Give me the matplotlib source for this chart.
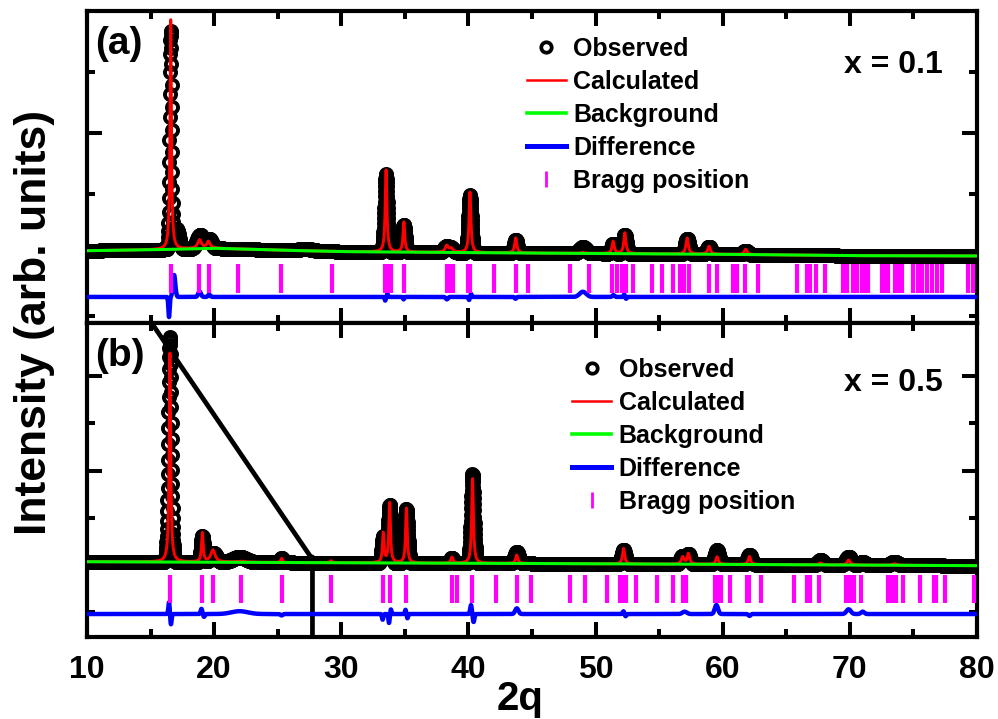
import numpy as np
import matplotlib
matplotlib.use("Agg")
import matplotlib.pyplot as plt
from matplotlib.lines import Line2D

plt.rcParams['font.family'] = ['Liberation Sans', 'DejaVu Sans']
plt.rcParams['font.weight'] = 'bold'
plt.rcParams['axes.labelweight'] = 'bold'

STEP = 0.015
two_theta = np.arange(10, 80 + STEP / 2, STEP)

# ---- panel (a), x = 0.1 ----
bkg_x_a = [10, 15, 20, 25, 30, 40, 50, 60, 70, 80]
bkg_y_a = [70, 85, 110, 80, 55, 38, 25, 11, -11, -16]

calc_pos_a = [16.58, 18.85, 19.55, 33.52, 34.92, 38.3, 38.65, 40.12, 43.72, 49.0, 51.38, 52.3, 57.2, 58.92, 61.8]
calc_h_a = [3786, 140, 110, 1344, 492, 110, 60, 992, 246, 16, 200, 340, 265, 128, 87]
calc_w_a = [0.13, 0.35, 0.3, 0.16, 0.16, 0.3, 0.3, 0.17, 0.2, 0.3, 0.2, 0.2, 0.22, 0.25, 0.25]

obs_pos_a = [16.58, 17.05, 18.9, 19.6, 27.2, 33.52, 34.92, 38.25, 38.65, 40.12, 43.72, 49.0, 51.38, 52.3, 57.2, 58.92, 61.8]
obs_h_a = [3573, 330, 220, 150, 30, 1278, 443, 90, 70, 942, 213, 100, 164, 311, 254, 123, 60]
obs_w_a = [0.2, 0.45, 0.6, 0.5, 1.2, 0.3, 0.28, 0.45, 0.45, 0.3, 0.32, 0.6, 0.3, 0.32, 0.36, 0.38, 0.4]

diff_pos_a = [16.45, 16.85, 18.85, 19.6, 33.45, 33.62, 34.9, 38.3, 40.05, 40.2, 43.7, 49.0, 51.4, 52.25, 52.4]
diff_amp_a = [-330, 360, 90, 40, -60, 50, -40, -40, -50, 50, -30, 85, 30, 40, -30]
diff_w_a = [0.12, 0.22, 0.25, 0.2, 0.1, 0.1, 0.1, 0.2, 0.1, 0.1, 0.15, 0.6, 0.2, 0.1, 0.1]

bragg_a = [16.58, 18.83, 19.62, 21.85, 25.23, 29.24, 33.45, 33.6, 33.9, 34.9, 38.3, 38.45, 38.8,
           39.95, 40.15, 42.0, 43.7, 44.71, 47.99, 49.51, 51.27, 51.66, 52.05, 52.39, 52.92, 54.41,
           55.2, 56.11, 56.64, 56.96, 57.33, 58.95, 59.53, 60.84, 61.15, 61.76, 62.8, 65.82, 66.6,
           66.87, 67.34, 68.05, 69.44, 69.75, 70.27, 70.59, 70.93, 71.19, 71.45, 72.5, 72.77, 73.03,
           73.55, 73.81, 74.08, 75.0, 75.39, 75.65, 76.04, 76.44, 76.83, 77.22, 79.32, 79.71]

# ---- panel (b), x = 0.5 ----
bkg_x_b = [10, 20, 30, 40, 43, 50, 60, 70, 80]
bkg_y_b = [70, 60, 49, 35, 35, 25, 14, 0, -14]

calc_pos_b = [16.52, 19.07, 19.9, 22.1, 25.3, 29.2, 33.3, 33.8, 35.12, 38.7, 40.32, 43.8, 52.2,
              56.85, 57.3, 59.55, 62.1, 67.7, 69.9, 73.5]
calc_h_b = [4444, 614, 254, 20, 85, 40, 624, 1270, 1164, 127, 1799, 176, 328, 150, 222, 161, 169, 40, 105, 30]
calc_w_b = [0.14, 0.15, 0.4, 0.8, 0.15, 0.2, 0.15, 0.15, 0.15, 0.2, 0.16, 0.2, 0.2, 0.25, 0.22,
            0.22, 0.22, 0.3, 0.3, 0.4]

obs_pos_b = [16.52, 19.07, 19.95, 22.0, 25.3, 33.3, 33.8, 35.12, 38.7, 40.32, 43.8, 52.2, 56.85,
             57.3, 59.55, 62.1, 67.7, 69.9, 71.0, 73.5]
obs_h_b = [4761, 550, 190, 110, 85, 560, 1227, 1143, 110, 1883, 239, 296, 180, 212, 296, 200, 100, 170, 60, 70]
obs_w_b = [0.3, 0.28, 0.55, 1.2, 0.25, 0.28, 0.3, 0.3, 0.3, 0.3, 0.4, 0.35, 0.4, 0.35, 0.4,
           0.38, 0.45, 0.5, 0.5, 0.6]

diff_pos_b = [16.45, 16.6, 19.0, 19.2, 22.0, 25.3, 33.25, 33.75, 33.9, 35.05, 35.2, 40.2, 40.4,
              43.8, 52.2, 52.35, 57.0, 59.5, 62.1, 69.9, 71.0]
diff_amp_b = [250, -220, 110, -60, 60, -30, -120, -190, 100, 90, -90, 190, -170, 120, 60, -50, 50,
              190, -40, 100, 50]
diff_w_b = [0.12, 0.12, 0.15, 0.15, 1.5, 0.2, 0.12, 0.12, 0.1, 0.1, 0.1, 0.15, 0.15, 0.3, 0.15,
            0.15, 0.4, 0.3, 0.2, 0.4, 0.3]

bragg_b = [16.5, 19.07, 19.9, 22.1, 25.3, 29.2, 33.3, 33.8, 35.1, 38.7, 39.1, 40.3, 42.2, 43.8,
           44.9, 48.0, 49.2, 50.9, 51.9, 52.1, 52.4, 53.2, 54.8, 56.1, 56.9, 57.1, 59.4, 59.7, 59.9,
           60.6, 61.9, 62.1, 63.0, 65.6, 66.6, 66.9, 67.6, 69.7, 70.0, 70.3, 70.9, 73.0, 73.3, 73.6,
           74.2, 75.5, 76.6, 76.8, 77.5, 79.8]

# stray black trace in panel (b)
glitch_x = [15.08, 27.6, 27.73, 27.73]
glitch_y = [5122, 170, 170, -1800]

diff_offset = {'a': -688, 'b': -1037}
bragg_span = {'a': (-140, -620), 'b': (-212, -804)}
ylims = {'a': (-1115, 4000), 'b': (-1524, 5122)}
major_y = {'a': [0, 2000], 'b': [0, 2000, 4000]}
minor_y = {'a': [-1000, 1000, 3000], 'b': [-1000, 1000, 3000]}


def peak_sum(x, positions, heights, widths, eta):
    # eta = 1 -> Lorentzian, eta = 0 -> Gaussian (widths are FWHM)
    y = np.zeros_like(x)
    for p, h, w in zip(positions, heights, widths):
        lor = 1 / (1 + ((x - p) / (w / 2)) ** 2)
        gau = np.exp(-4 * np.log(2) * ((x - p) / w) ** 2)
        y += h * (eta * lor + (1 - eta) * gau)
    return y


def draw_panel(ax, key, bkg_x, bkg_y, calc_peaks, obs_peaks, diff_peaks, bragg, label, comp, leg_anchor):
    bkg = np.interp(two_theta, bkg_x, bkg_y)
    calc = bkg + peak_sum(two_theta, *calc_peaks, eta=1.0)
    obs = bkg + peak_sum(two_theta, *obs_peaks, eta=0.0)
    diff = diff_offset[key] + peak_sum(two_theta, *diff_peaks, eta=0.0)

    ax.plot(two_theta, obs, ls='none', marker='o', ms=8, mfc='none', mec='k', mew=2.8, zorder=2)
    ax.plot(two_theta, calc, color='#ff0000', lw=2.1, zorder=3)
    ax.plot(two_theta, bkg, color='#00ff00', lw=2.2, zorder=4)
    ax.plot(two_theta, diff, color='#0000ff', lw=3.2, zorder=4)
    ax.vlines(bragg, *bragg_span[key], color='#ff00ff', lw=3, zorder=4)

    ax.set_xlim(10, 80)
    ax.set_ylim(*ylims[key])
    ax.set_xticks(np.arange(10, 81, 10))
    ax.set_xticks(np.arange(15, 80, 10), minor=True)
    ax.set_yticks(major_y[key])
    ax.set_yticks(minor_y[key], minor=True)
    ax.tick_params(which='both', direction='in', top=True, right=True, width=2.9,
                   labelleft=False, labelsize=23, pad=13)
    ax.tick_params(which='major', length=10.8)
    ax.tick_params(which='minor', length=5.8)
    for s in ax.spines.values():
        s.set_linewidth(3)

    ax.text(0.009, 0.895, label, transform=ax.transAxes, fontsize=28, ha='left', va='center')
    ax.text(0.962, comp[1], comp[0], transform=ax.transAxes, fontsize=23, ha='right', va='center')

    handles = [
        Line2D([], [], ls='none', marker='o', ms=7.5, mfc='none', mec='k', mew=2.7),
        Line2D([], [], color='#ff0000', lw=1.8),
        Line2D([], [], color='#00ff00', lw=2.6),
        Line2D([], [], color='#0000ff', lw=3.6),
        Line2D([], [], ls='none', marker='|', ms=11, mew=2, color='#ff00ff'),
    ]
    labels = ['Observed', 'Calculated', 'Background', 'Difference', 'Bragg position']
    ax.legend(handles, labels, loc='upper left', bbox_to_anchor=leg_anchor, frameon=False,
              borderpad=0, borderaxespad=0, handlelength=1.56, handletextpad=0.3,
              labelspacing=0.36, prop={'weight': 'bold', 'size': 18})


fig = plt.figure(figsize=(9.98, 7.19), dpi=100)
ax_a = fig.add_axes([0.0872, 0.5508, 0.8918, 0.4339])
ax_b = fig.add_axes([0.0872, 0.1140, 0.8918, 0.4368])

draw_panel(ax_a, 'a', bkg_x_a, bkg_y_a, (calc_pos_a, calc_h_a, calc_w_a),
           (obs_pos_a, obs_h_a, obs_w_a), (diff_pos_a, diff_amp_a, diff_w_a),
           bragg_a, '(a)', ('x = 0.1', 0.827), (0.494, 0.916))
draw_panel(ax_b, 'b', bkg_x_b, bkg_y_b, (calc_pos_b, calc_h_b, calc_w_b),
           (obs_pos_b, obs_h_b, obs_w_b), (diff_pos_b, diff_amp_b, diff_w_b),
           bragg_b, '(b)', ('x = 0.5', 0.809), (0.545, 0.888))
ax_b.plot(glitch_x, glitch_y, color='k', lw=3.4, zorder=2)

ax_a.tick_params(labelbottom=False)
ax_b.set_xlabel('2q', fontsize=29, fontweight='bold')
ax_b.xaxis.set_label_coords(0.4865, -0.137)
fig.text(0.035, 0.552, 'Intensity (arb. units)', rotation=90, ha='center', va='center',
         fontsize=32, fontweight='bold')

fig.savefig('out.png', dpi=100)
